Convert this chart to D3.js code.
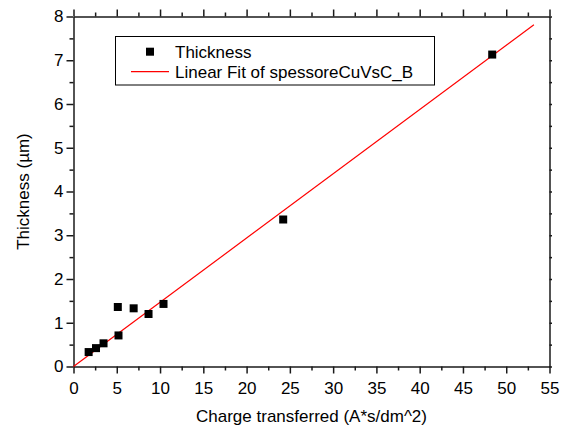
<!DOCTYPE html>
<html>
<head>
<meta charset="utf-8">
<script src="https://cdn.jsdelivr.net/npm/d3@7"></script>
<style>
  html, body { margin: 0; padding: 0; background: #fff; }
  svg { display: block; font-family: "Liberation Sans", Arial, sans-serif; }
</style>
</head>
<body>
<svg id="chart" width="563" height="432"></svg>
<script>
// ---- data ----
const chargeValues = [1.75, 2.6, 3.47, 5.12, 5.2, 6.95, 8.67, 10.4, 24.23, 48.38];
const thicknessValues = [0.33, 0.42, 0.53, 1.36, 0.71, 1.33, 1.20, 1.43, 3.36, 7.13];
const fitSlope = 0.1468;
const fitIntercept = 0;
const fitRangeX = [0, 53.2];
const xTickValues = [0, 5, 10, 15, 20, 25, 30, 35, 40, 45, 50, 55];
const yTickValues = [0, 1, 2, 3, 4, 5, 6, 7, 8];
const xDomain = [0, 55];
const yDomain = [0, 8];
const seriesName = "Thickness";
const fitName = "Linear Fit of spessoreCuVsC_B";
const xTitle = "Charge transferred (A*s/dm^2)";
const yTitle = "Thickness (\u00B5m)";

// ---- layout ----
const L = 73.5, R = 549.5, T = 16.5, B = 366.5;
const svg = d3.select("#chart");
const x = d3.scaleLinear().domain(xDomain).range([L, R]);
const y = d3.scaleLinear().domain(yDomain).range([B, T]);

const xMinor = d3.range(xDomain[0], xDomain[1] + 0.001, 2.5).filter(v => !xTickValues.includes(v));
const yMinor = d3.range(yDomain[0], yDomain[1] + 0.001, 0.5).filter(v => !yTickValues.includes(v));

function styleAxis(g) {
  g.select(".domain").attr("stroke", "#1a1a1a").attr("stroke-width", 1.5);
  g.selectAll(".tick line").attr("stroke", "#1a1a1a").attr("stroke-width", 1.5);
  g.selectAll("text").attr("fill", "#000").attr("font-size", 17)
    .attr("font-family", '"Liberation Sans", Arial, sans-serif');
}

// bottom axis
svg.append("g").attr("transform", `translate(0,${B})`)
  .call(d3.axisBottom(x).tickValues(xMinor).tickSize(4).tickFormat(""))
  .call(g => { styleAxis(g); g.select(".domain").remove(); });
svg.append("g").attr("transform", `translate(0,${B})`)
  .call(d3.axisBottom(x).tickValues(xTickValues).tickSize(7).tickSizeOuter(0).tickPadding(8).tickFormat(d3.format("d")))
  .call(styleAxis);

// top axis
svg.append("g").attr("transform", `translate(0,${T})`)
  .call(d3.axisTop(x).tickValues(xMinor).tickSize(4).tickFormat(""))
  .call(g => { styleAxis(g); g.select(".domain").remove(); });
svg.append("g").attr("transform", `translate(0,${T})`)
  .call(d3.axisTop(x).tickValues(xTickValues).tickSize(7).tickSizeOuter(0).tickFormat(""))
  .call(styleAxis);

// left axis
svg.append("g").attr("transform", `translate(${L},0)`)
  .call(d3.axisLeft(y).tickValues(yMinor).tickSize(4).tickFormat(""))
  .call(g => { styleAxis(g); g.select(".domain").remove(); });
svg.append("g").attr("transform", `translate(${L},0)`)
  .call(d3.axisLeft(y).tickValues(yTickValues).tickSize(7).tickSizeOuter(0).tickPadding(3).tickFormat(d3.format("d")))
  .call(styleAxis);

// right axis (tiny ticks)
svg.append("g").attr("transform", `translate(${R},0)`)
  .call(d3.axisRight(y).tickValues(d3.range(yDomain[0], yDomain[1] + 0.001, 0.5)).tickSize(2.5).tickSizeOuter(0).tickFormat(""))
  .call(styleAxis);

// axis titles
svg.append("text")
  .attr("x", (L + R) / 2).attr("y", 422)
  .attr("text-anchor", "middle").attr("font-size", 17).attr("fill", "#000")
  .text(xTitle);
svg.append("text")
  .attr("transform", `translate(29,${(T + B) / 2}) rotate(-90)`)
  .attr("text-anchor", "middle").attr("font-size", 17).attr("fill", "#000")
  .text(yTitle);

// fit line
const fitPts = fitRangeX.map(v => [v, fitIntercept + fitSlope * v]);
svg.append("path")
  .datum(fitPts)
  .attr("fill", "none").attr("stroke", "#ff0000").attr("stroke-width", 1.2)
  .attr("d", d3.line().x(d => x(d[0])).y(d => y(d[1])));

// points
const ms = 8;
svg.append("g").selectAll("rect")
  .data(chargeValues.map((c, i) => [c, thicknessValues[i]]))
  .join("rect")
  .attr("x", d => x(d[0]) - ms / 2).attr("y", d => y(d[1]) - ms / 2)
  .attr("width", ms).attr("height", ms).attr("fill", "#000");

// legend
const lg = svg.append("g");
lg.append("rect").attr("x", 115.5).attr("y", 36.5).attr("width", 319).attr("height", 48.5)
  .attr("fill", "#fff").attr("stroke", "#000").attr("stroke-width", 1);
lg.append("rect").attr("x", 146).attr("y", 47.7).attr("width", ms).attr("height", ms).attr("fill", "#000");
lg.append("text").attr("x", 175).attr("y", 57.5).attr("font-size", 17).attr("fill", "#000").text(seriesName);
lg.append("line").attr("x1", 131).attr("x2", 169).attr("y1", 71.7).attr("y2", 71.7)
  .attr("stroke", "#ff0000").attr("stroke-width", 1.2);
lg.append("text").attr("x", 175).attr("y", 77.5).attr("font-size", 17).attr("fill", "#000").text(fitName);
</script>
</body>
</html>
